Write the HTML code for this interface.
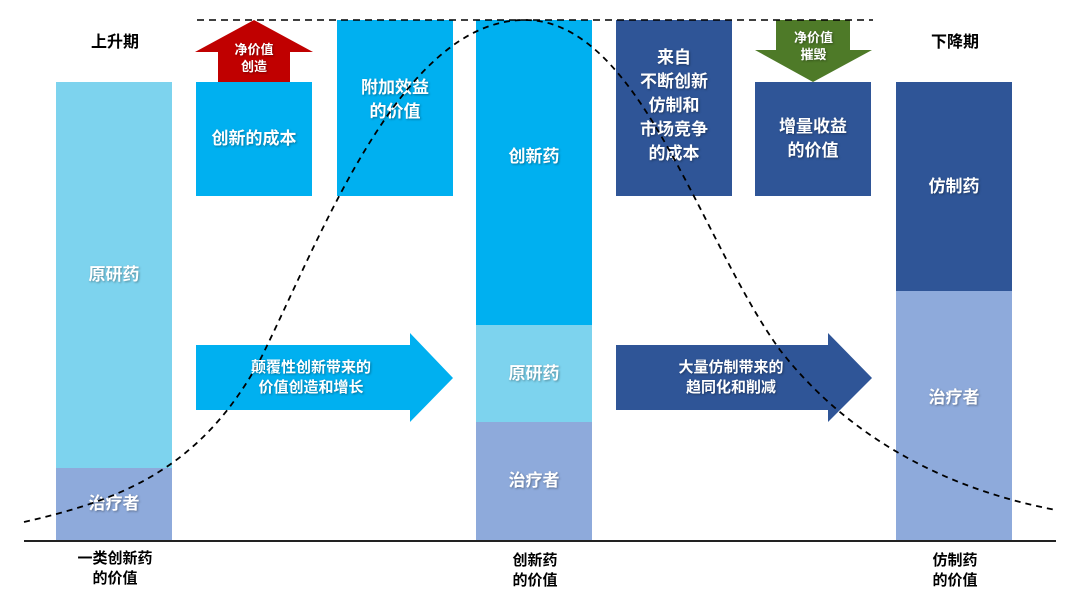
<!DOCTYPE html>
<html><head><meta charset="utf-8"><style>
body{margin:0;width:1080px;height:600px;background:#fff;position:relative;overflow:hidden;font-family:"Liberation Sans","Noto Sans CJK SC",sans-serif;font-weight:bold}
.b{position:absolute;display:flex;align-items:center;justify-content:center;text-align:center;color:#fff;font-size:17px;line-height:24px;text-shadow:1px 1px 2px rgba(0,0,0,.35)}
.t{position:absolute;color:#000;font-size:15px;line-height:20px;text-align:center}
</style></head><body>
<div class="b" style="left:56px;top:82px;width:116px;height:386px;background:#7dd3ee">原研药</div>
<div class="b" style="left:56px;top:468px;width:116px;height:72px;background:#8eaadb">治疗者</div>
<div class="b" style="left:196px;top:82px;width:116px;height:114px;background:#00b0f0">创新的成本</div>
<div class="b" style="left:337px;top:20px;width:116px;height:176px;background:#00b0f0;align-items:flex-start;padding-top:56px;box-sizing:border-box">附加效益<br>的价值</div>
<div class="b" style="left:476px;top:20px;width:116px;height:276px;background:#00b0f0"></div>
<div class="b" style="left:476px;top:145px;width:116px;height:24px">创新药</div>
<div class="b" style="left:476px;top:296px;width:116px;height:29px;background:#00b0f0"></div>
<div class="b" style="left:476px;top:325px;width:116px;height:97px;background:#7dd3ee">原研药</div>
<div class="b" style="left:476px;top:422px;width:116px;height:118px;background:#8eaadb">治疗者</div>
<div class="b" style="left:616px;top:20px;width:116px;height:176px;background:#2f5597;align-items:flex-start;padding-top:26px;box-sizing:border-box">来自<br>不断创新<br>仿制和<br>市场竞争<br>的成本</div>
<div class="b" style="left:755px;top:82px;width:116px;height:114px;background:#2f5597">增量收益<br>的价值</div>
<div class="b" style="left:896px;top:82px;width:116px;height:209px;background:#2f5597">仿制药</div>
<div class="b" style="left:896px;top:291px;width:116px;height:249px;background:#8eaadb;align-items:flex-start;padding-top:95px;box-sizing:border-box">治疗者</div>
<svg style="position:absolute;left:0;top:0" width="1080" height="600">
<polygon points="218,82 290,82 290,52 313,52 254,20 195,52 218,52" fill="#c00000"/>
<polygon points="776,20 850,20 850,50 872,50 813,82 755,50 776,50" fill="#4e7a28"/>
<polygon points="196,345 410,345 410,333 453,378 410,422 410,410 196,410" fill="#00b0f0"/>
<polygon points="616,345 828,345 828,333 872,378 828,422 828,410 616,410" fill="#2f5597"/>
<line x1="197" y1="20" x2="873" y2="20" stroke="#000" stroke-width="1.5" stroke-dasharray="7,5"/>
<line x1="24" y1="541" x2="1056" y2="541" stroke="#222" stroke-width="2"/>
<path fill="none" stroke="#000" stroke-width="1.8" stroke-dasharray="6,5" d="M24,522 C120,500 200,470 260,360 C320,240 400,20 525,20 C640,20 700,240 780,350 C850,440 950,490 1056,510"/>
</svg>
<div class="b" style="left:195px;top:38px;width:118px;height:40px;font-size:13px;line-height:17px">净价值<br>创造</div>
<div class="b" style="left:755px;top:26px;width:117px;height:40px;font-size:13px;line-height:17px">净价值<br>摧毁</div>
<div class="b" style="left:196px;top:355px;width:230px;height:46px;font-size:15px;line-height:20px">颠覆性创新带来的<br>价值创造和增长</div>
<div class="b" style="left:616px;top:355px;width:230px;height:46px;font-size:15px;line-height:20px">大量仿制带来的<br>趋同化和削减</div>
<div class="t" style="left:70px;top:33px;width:90px;font-size:16px">上升期</div>
<div class="t" style="left:910px;top:33px;width:90px;font-size:16px">下降期</div>
<div class="t" style="left:60px;top:549px;width:110px">一类创新药<br>的价值</div>
<div class="t" style="left:480px;top:551px;width:110px">创新药<br>的价值</div>
<div class="t" style="left:900px;top:551px;width:110px">仿制药<br>的价值</div>
</body></html>
